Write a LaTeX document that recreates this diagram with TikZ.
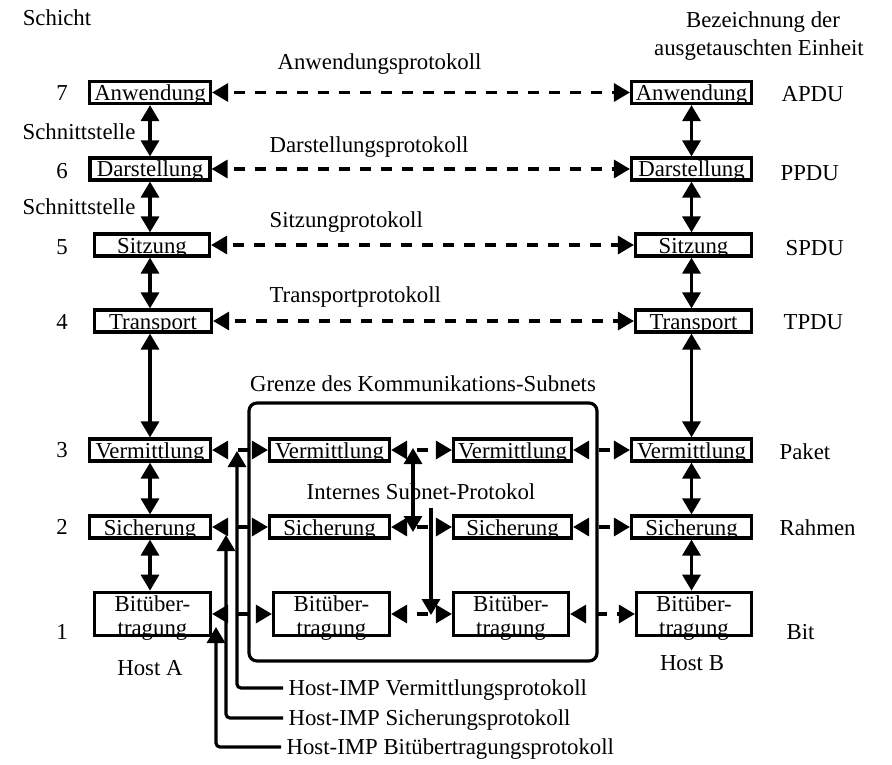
\documentclass[tikz,border=0pt]{standalone}
\usepackage{fontspec}
\setmainfont{Liberation Serif}
\usetikzlibrary{arrows.meta}

\begin{document}
\begin{tikzpicture}[x=1pt, y=-1pt, line width=3.2pt,
  every node/.style={font=\fontsize{22.8}{24}\selectfont, inner sep=0pt,
    text height=15pt, text depth=0pt},
  layerbox/.style={draw, minimum height=22pt, text height=18pt, text depth=2pt},
  bitbox/.style={draw, align=center, minimum height=43.5pt, text height=43.5pt, text depth=0pt},
  >={Triangle[length=16pt, width=18pt]},
  proto/.style={<->, dash pattern=on 11pt off 10pt, dash phase=14pt},
  link/.style={<->, dash pattern=on 11pt off 10pt, dash phase=10pt}]
\useasboundingbox (0,0) rectangle (892,765);

% headings
\node (schicht) at (57,18) {Schicht};
\node (bez1) at (763,20) {Bezeichnung der};
\node (bez2) at (759,48) {ausgetauschten Einheit};

\foreach \n/\y in {7/93,6/171,5/247,4/322,3/450,2/527,1/632}
  \node (num\n) at (62,\y) {\n};
\node[anchor=east] (snt1) at (137,132) {Schnittstelle};
\node[anchor=east] (snt2) at (137,207) {Schnittstelle};

% host A
\node[layerbox, minimum width=121pt] (anwL) at (150,92.5) {Anwendung};
\node[layerbox, minimum width=120pt] (darL) at (150,169) {Darstellung};
\node[layerbox, minimum width=115pt] (sitL) at (152,245) {Sitzung};
\node[layerbox, minimum width=117pt] (traL) at (153,321) {Transport};
\node[layerbox, minimum width=121pt] (verL) at (150,450) {Vermittlung};
\node[layerbox, minimum width=121pt] (sicL) at (150,527) {Sicherung};
\node[bitbox, minimum width=116pt] (bitL) at (152.5,614) {Bitüber-\\tragung};
\node (hostA) at (150,668) {Host A};

% host B
\node[layerbox, minimum width=120pt] (anwR) at (691.5,92.5) {Anwendung};
\node[layerbox, minimum width=120pt] (darR) at (691.5,169) {Darstellung};
\node[layerbox, minimum width=116pt] (sitR) at (693.5,245) {Sitzung};
\node[layerbox, minimum width=116pt] (traR) at (693.5,321) {Transport};
\node[layerbox, minimum width=120pt] (verR) at (691.5,450) {Vermittlung};
\node[layerbox, minimum width=120pt] (sicR) at (691.5,527) {Sicherung};
\node[bitbox, minimum width=115pt] (bitR) at (694,614) {Bitüber-\\tragung};
\node (hostB) at (692,663) {Host B};

\node[anchor=west] (apdu) at (780,94) {APDU};
\node[anchor=west] (ppdu) at (779,173) {PPDU};
\node[anchor=west] (spdu) at (784,248) {SPDU};
\node[anchor=west] (tpdu) at (782,322) {TPDU};
\node[anchor=west] (paket) at (778,452) {Paket};
\node[anchor=west] (rahmen) at (778,528) {Rahmen};
\node[anchor=west] (bit) at (785,632) {Bit};

% subnet
\coordinate (netNW) at (249,403);
\coordinate (netSE) at (597,661);
\draw[rounded corners=8pt] (netNW) rectangle (netSE);
\node (grenze) at (423,384) {Grenze des Kommunikations-Subnets};
\node (intern) at (421,492) {Internes Subnet-Protokol};
\node[layerbox, minimum width=120pt] (verM1) at (329.5,450) {Vermittlung};
\node[layerbox, minimum width=118pt] (verM2) at (512.5,450) {Vermittlung};
\node[layerbox, minimum width=120pt] (sicM1) at (329.5,527) {Sicherung};
\node[layerbox, minimum width=118pt] (sicM2) at (512.5,527) {Sicherung};
\node[bitbox, minimum width=116pt] (bitM1) at (331.5,614) {Bitüber-\\tragung};
\node[bitbox, minimum width=115pt] (bitM2) at (511,614) {Bitüber-\\tragung};

% interfaces
\foreach \a/\b in {anwL/darL,darL/sitL,sitL/traL,traL/verL,verL/sicL,sicL/bitL}
  \draw[<->] (\a.south -| anwL) -- (\b.north -| anwL);
\foreach \a/\b in {anwR/darR,darR/sitR,sitR/traR,traR/verR,verR/sicR,sicR/bitR}
  \draw[<->] (\a.south -| anwR) -- (\b.north -| anwR);

% peer protocols
\foreach \a/\b in {anwL/anwR,darL/darR,sitL/sitR,traL/traR}
  \draw[proto] (\a) -- (\b);
\node[anchor=west] (pAnw) at (276,62) {Anwendungsprotokoll};
\node[anchor=west] (pDar) at (268,145) {Darstellungsprotokoll};
\node[anchor=west] (pSit) at (268,220) {Sitzungprotokoll};
\node[anchor=west] (pTra) at (268,295) {Transportprotokoll};

\foreach \a/\b in {verL/verM1,verM1/verM2,verM2/verR,sicL/sicM1,sicM1/sicM2,sicM2/sicR,bitL/bitM1,bitM1/bitM2,bitM2/bitR}
  \draw[link] (\a) -- (\b);

% inside the subnet
\coordinate (intTop) at (413,448);
\coordinate (intBot) at (413,532);
\draw[<->] (intTop) -- (intBot);
\coordinate (intFrom) at (431,508);
\coordinate (intTo) at (431,615);
\draw[->] (intFrom) -- (intTo);

% host-IMP
\node[anchor=west] (hostV) at (287,688) {Host-IMP Vermittlungsprotokoll};
\node[anchor=west] (hostS) at (287,718) {Host-IMP Sicherungsprotokoll};
\node[anchor=west] (hostBit) at (285,747) {Host-IMP Bitübertragungsprotokoll};
\coordinate (tipV) at (237,451);
\coordinate (tipS) at (226,535);
\coordinate (tipB) at (216,627);
\draw[->, rounded corners=4pt] ([xshift=-4pt]hostV.west) -| (tipV);
\draw[->, rounded corners=4pt] ([xshift=-4pt]hostS.west) -| (tipS);
\draw[->, rounded corners=4pt] ([xshift=-4pt]hostBit.west) -| (tipB);
\end{tikzpicture}
\end{document}
